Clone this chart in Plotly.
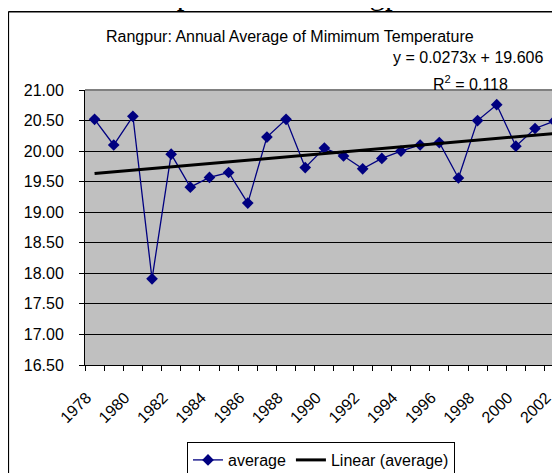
import plotly.graph_objects as go

# ---- data ----
years = list(range(1978, 2003))
average = [20.52, 20.10, 20.57, 17.91, 19.95, 19.41, 19.57, 19.65, 19.15, 20.23,
           20.52, 19.73, 20.05, 19.92, 19.71, 19.88, 20.00, 20.10, 20.14, 19.56,
           20.50, 20.76, 20.08, 20.37, 20.49]
trend_slope = 0.0273
trend_intercept = 19.606
r_squared = 0.118
tick_years = list(range(1978, 2003, 2))
tick_labels = [str(y) for y in tick_years]
y_ticks = [16.5 + 0.5 * i for i in range(10)]

trend = [trend_slope * (y - years[0] + 1) + trend_intercept for y in years]

FONT = "Arial, 'Liberation Sans', sans-serif"

fig = go.Figure()
fig.add_trace(go.Scatter(
    x=years, y=average, name="average", mode="lines+markers",
    line=dict(color="#000080", width=1.3),
    marker=dict(symbol="diamond", size=9, color="#000080"),
))
fig.add_trace(go.Scatter(
    x=years, y=trend, name="Linear (average)", mode="lines",
    line=dict(color="black", width=3),
))

# page has an 8px body margin: figure drawn from page (8, 8)
OFF = 8
W, H = 560 - OFF, 473 - OFF
L, T = 85 - OFF, 90 - OFF
B = H - (365 - OFF)
R = 0
pw, ph = W - L - R, H - T - B

def px(xp):  # page pixel -> paper x
    return (xp - OFF - L) / pw

def py(yp):  # page pixel -> paper y
    return (H - B - (yp - OFF)) / ph

fig.update_layout(
    width=W, height=H,
    margin=dict(l=L, r=R, t=T, b=B, pad=0, autoexpand=False),
    paper_bgcolor="white", plot_bgcolor="#C0C0C0",
    font=dict(family=FONT, size=16, color="black"),
    showlegend=True,
    legend=dict(orientation="h", x=px(187), y=py(442), xanchor="left", yanchor="top",
                bgcolor="white", bordercolor="black", borderwidth=1,
                font=dict(family=FONT, size=16, color="black"),
                itemwidth=30, tracegroupgap=0),
    xaxis=dict(
        range=[years[0] - 0.5, years[0] - 0.5 + pw / 19.15],
        tickmode="array", tickvals=tick_years, ticktext=tick_labels,
        tickangle=-45, ticks="", showgrid=False, zeroline=False,
        showline=True, linecolor="black", linewidth=1,
        tickfont=dict(family=FONT, size=16, color="black"),
        ticklabelstandoff=16, ticklabelshift=-8,
        minor=dict(tick0=years[0] - 0.5, dtick=1, ticks="outside", ticklen=5,
                   tickcolor="black", showgrid=False),
    ),
    yaxis=dict(
        range=[16.5, 21.0], tickmode="array", tickvals=y_ticks,
        ticktext=[f"{v:.2f}" for v in y_ticks],
        ticks="outside", ticklen=5, tickcolor="black",
        showgrid=True, gridcolor="black", gridwidth=1, zeroline=False,
        showline=True, linecolor="black", linewidth=1,
        tickfont=dict(family=FONT, size=16, color="black"),
        ticklabelstandoff=12,
    ),
)

# plot area top border (grey)
fig.add_shape(type="line", xref="paper", yref="paper", x0=0, x1=1.05, y0=1, y1=1,
              line=dict(color="#808080", width=2))
# outer chart border (left and top edges; right/bottom lie outside the picture)
fig.add_shape(type="line", xref="paper", yref="paper",
              x0=px(8.3), x1=px(8.3), y0=py(520), y1=py(11.7),
              line=dict(color="black", width=1.6))
fig.add_shape(type="line", xref="paper", yref="paper",
              x0=px(8.3), x1=px(600), y0=py(11.7), y1=py(11.7),
              line=dict(color="black", width=1.6))

fig.add_annotation(text="Temperature of Rangpur Station", xref="paper", yref="paper",
                   x=px(120), y=py(12.5), xanchor="left", yanchor="bottom", showarrow=False,
                   font=dict(family="'Times New Roman', 'Liberation Serif', serif", size=31, color="black"))
fig.add_annotation(text="Rangpur: Annual Average of Mimimum Temperature", xref="paper", yref="paper",
                   x=px(289.5), y=py(36), xanchor="center", yanchor="middle", showarrow=False,
                   font=dict(family=FONT, size=16, color="black"))
fig.add_annotation(text=f"y = {trend_slope}x + {trend_intercept}", xref="paper", yref="paper",
                   x=px(468), y=py(57.5), xanchor="center", yanchor="middle", showarrow=False,
                   font=dict(family=FONT, size=16, color="black"))
fig.add_annotation(text=f"R<sup>2</sup> = {r_squared}", xref="paper", yref="paper",
                   x=px(470), y=py(83), xanchor="center", yanchor="middle", showarrow=False,
                   font=dict(family=FONT, size=16, color="black"))

fig.write_html("out.html")
